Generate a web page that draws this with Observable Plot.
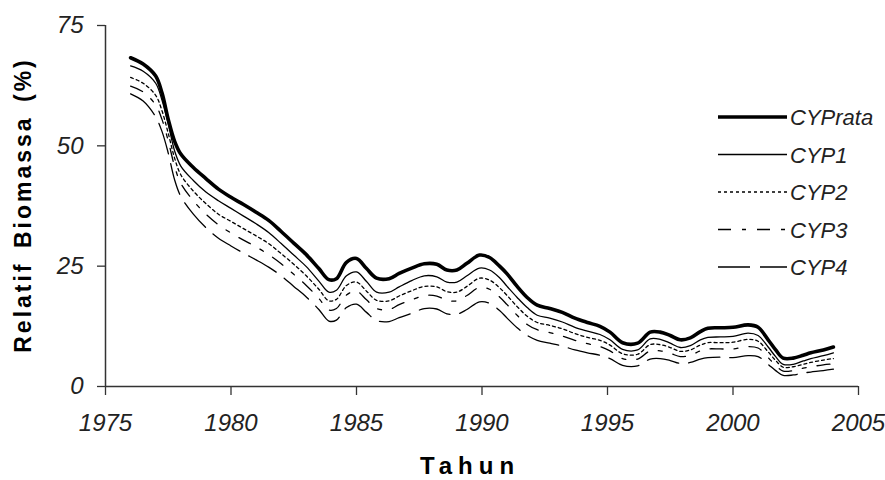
<!DOCTYPE html>
<html>
<head>
<meta charset="utf-8">
<script src="https://cdn.jsdelivr.net/npm/d3@7"></script>
<script src="https://cdn.jsdelivr.net/npm/@observablehq/plot@0.6"></script>
<style>
  body { margin: 0; background: #fff; }
  #wrap { position: relative; width: 885px; height: 480px; font-family: "Liberation Sans", Arial, sans-serif; }
  #wrap svg.chart text { font-family: "Liberation Sans", Arial, sans-serif; }
  #ytitle { position: absolute; left: 23px; top: 205px; transform: translate(-50%, -50%) rotate(-90deg);
            white-space: nowrap; font-weight: bold; font-size: 23px; letter-spacing: 3px; word-spacing: 4px; color: #000; }
  #xtitle { position: absolute; left: 470px; top: 452px; transform: translateX(-50%);
            white-space: nowrap; font-weight: bold; font-size: 24px; letter-spacing: 6px; color: #000; }
  #legend { position: absolute; left: 0; top: 0; }
</style>
</head>
<body>
<div id="wrap">
  <div id="ytitle">Relatif Biomassa (%)</div>
  <div id="xtitle">Tahun</div>
</div>
<script>
const years = [1976, 1976.5, 1977, 1977.25, 1977.5, 1977.75, 1978, 1978.5, 1979, 1979.5,
  1980, 1980.5, 1981, 1981.5, 1982, 1982.5, 1983, 1983.5, 1983.9, 1984.2,
  1984.6, 1985, 1985.4, 1985.8, 1986.3, 1986.7, 1987.2, 1987.7, 1988.2, 1988.6,
  1989, 1989.4, 1989.9, 1990.3, 1990.7, 1991, 1991.4, 1991.8, 1992.2, 1992.7,
  1993.2, 1993.7, 1994.2, 1994.7, 1995.1, 1995.6, 1996.2, 1996.7, 1997.1, 1997.5,
  1997.9, 1998.3, 1998.7, 1999, 1999.5, 2000, 2000.6, 2001, 2001.4, 2001.7,
  2002, 2002.4, 2002.8, 2003.1, 2003.6, 2004];

const cypRata = [68.3, 67, 64.5, 61, 55.5, 51, 48.3, 45.5, 43.2, 41,
  39.3, 37.8, 36.2, 34.5, 32.2, 29.8, 27.4, 24.5, 22.2, 22.4,
  25.8, 26.6, 24.5, 22.5, 22.4, 23.5, 24.6, 25.5, 25.4, 24.2,
  24.2, 25.6, 27.3, 26.8, 25, 23.4, 20.8, 18.5, 16.9, 16.2,
  15.4, 14.2, 13.3, 12.5, 11.3, 9.1, 9.0, 11.3, 11.3, 10.6,
  9.7, 10.1, 11.4, 12.1, 12.2, 12.3, 12.8, 12.3, 9.7, 7.6,
  5.9, 5.9, 6.5, 7.0, 7.6, 8.2];

const cyp1 = [66.6, 65.5, 63, 59.5, 54.5, 49, 45.8, 42.8, 40.4, 38.6,
  37, 35.4, 33.8, 32, 29.7, 27.3, 24.9, 21.9, 19.6, 20,
  23, 23.8, 21.8, 19.6, 19.6, 20.7, 22, 23, 22.8, 21.7,
  21.7, 23, 24.6, 24.2, 22.6, 20.8, 18.5, 16.4, 14.8, 14.2,
  13.4, 12.3, 11.5, 10.8, 9.7, 7.7, 7.6, 9.9, 9.8, 9.0,
  8.1, 8.5, 9.7, 10.2, 10.3, 10.4, 11.1, 10.6, 8.2, 6.2,
  4.6, 4.6, 5.3, 5.8, 6.4, 7.0];

const cyp2 = [64.2, 63, 60.5, 57.3, 52.6, 47.5, 44, 40.6, 38, 35.8,
  34.3, 32.8, 31.3, 29.7, 27.6, 25.4, 23, 20.2, 17.8, 18.1,
  21, 21.7, 19.8, 17.9, 17.8, 18.8, 19.9, 20.8, 20.7, 19.7,
  19.6, 20.8, 22.5, 22.1, 20.5, 18.9, 16.6, 14.6, 13.3, 12.7,
  12.0, 11.0, 10.2, 9.6, 8.6, 6.8, 6.7, 8.7, 8.7, 8.1,
  7.3, 7.6, 8.6, 9.1, 9.1, 9.2, 9.8, 9.4, 7.2, 5.4,
  4.0, 4.1, 4.6, 5.0, 5.5, 5.8];

const cyp3 = [62.4, 61.2, 58.5, 55.5, 51, 45.8, 42.2, 38.6, 35.8, 33.6,
  31.9, 30.4, 29, 27.4, 25.5, 23.3, 21, 18.3, 15.9, 16.2,
  19, 19.8, 18, 16.2, 16.0, 17.0, 18.0, 18.9, 18.8, 17.9,
  17.8, 18.9, 20.6, 20.2, 18.6, 17.0, 14.8, 12.9, 11.8, 11.2,
  10.5, 9.6, 8.9, 8.3, 7.4, 5.8, 5.7, 7.4, 7.4, 6.9,
  6.2, 6.5, 7.4, 7.8, 7.8, 7.8, 8.3, 8.0, 6.0, 4.4,
  3.2, 3.3, 3.8, 4.1, 4.5, 4.7];

const cyp4 = [60.8, 59.3, 56, 53, 48.5, 43, 39.5, 35.8, 33, 30.8,
  29.2, 27.7, 26.3, 24.8, 23, 20.8, 18.6, 16, 13.6, 13.8,
  16.4, 17.1, 15.4, 13.7, 13.5, 14.3, 15.2, 16.2, 16.1, 15.1,
  15.0, 16.0, 17.6, 17.3, 15.8, 14.2, 12.2, 10.6, 9.6, 9.0,
  8.4, 7.6, 7.0, 6.5, 5.8, 4.4, 4.3, 5.7, 5.8, 5.4,
  4.8, 5.0, 5.7, 6.0, 6.1, 6.0, 6.4, 6.2, 4.6, 3.3,
  2.3, 2.4, 2.8, 3.0, 3.3, 3.6];

const seriesNames = ["CYPrata", "CYP1", "CYP2", "CYP3", "CYP4"];
const seriesValues = [cypRata, cyp1, cyp2, cyp3, cyp4];
const xTicks = [1975, 1980, 1985, 1990, 1995, 2000, 2005];
const yTicks = [0, 25, 50, 75];

// styles per series (presentation only)
const styles = {
  CYPrata: {strokeWidth: 3.6, dash: null},
  CYP1: {strokeWidth: 1.3, dash: null},
  CYP2: {strokeWidth: 1.3, dash: "3,3"},
  CYP3: {strokeWidth: 1.3, dash: "13,11,4,11"},
  CYP4: {strokeWidth: 1.3, dash: "32,10"}
};

const rows = seriesNames.map((name, i) => years.map((yr, j) => ({series: name, year: yr, value: seriesValues[i][j]})));

const lineMarks = seriesNames.slice().reverse().map(name => {
  const i = seriesNames.indexOf(name);
  return Plot.line(rows[i], {
    x: "year", y: "value", stroke: "#000",
    strokeWidth: styles[name].strokeWidth,
    strokeDasharray: styles[name].dash ?? undefined,
    curve: "catmull-rom", strokeLinejoin: "round"
  });
});

const chart = Plot.plot({
  width: 885, height: 480,
  marginLeft: 105, marginRight: 27, marginTop: 25, marginBottom: 94,
  x: {domain: [1975, 2005]},
  y: {domain: [0, 75]},
  style: {background: "white", color: "#222"},
  marks: [
    Plot.axisX({ticks: xTicks, tickFormat: d => String(d), tickSize: 9, tickPadding: 18,
      fontSize: 24, fontStyle: "italic", label: null, stroke: "#333", strokeWidth: 1.3, fill: "#222"}),
    Plot.axisY({ticks: yTicks, tickSize: 8, tickPadding: 14,
      fontSize: 24, fontStyle: "italic", label: null, stroke: "#333", strokeWidth: 1.3, fill: "#222"}),
    Plot.ruleX([1975], {stroke: "#333", strokeWidth: 1.5}),
    Plot.ruleY([0], {stroke: "#333", strokeWidth: 1.5}),
    ...lineMarks
  ]
});
chart.classList.add("chart");
const wrap = document.getElementById("wrap");
wrap.insertBefore(chart, wrap.firstChild);

// legend overlay
const legendTop = 117, legendStep = 37.5;
const lg = d3.select(wrap).append("svg").attr("id", "legend").attr("width", 885).attr("height", 480);
const entries = lg.selectAll("g").data(seriesNames).join("g")
  .attr("transform", (d, i) => `translate(0,${legendTop + i * legendStep})`);
entries.append("line").attr("x1", 718).attr("x2", 787).attr("y1", 0).attr("y2", 0)
  .attr("stroke", "#000").attr("stroke-width", d => styles[d].strokeWidth)
  .attr("stroke-dasharray", d => styles[d].dash);
entries.append("text").attr("x", 790).attr("y", 8).text(d => d)
  .attr("font-family", "Liberation Sans, Arial, sans-serif").attr("font-style", "italic")
  .attr("font-size", 22).attr("fill", "#222");
</script>
</body>
</html>
